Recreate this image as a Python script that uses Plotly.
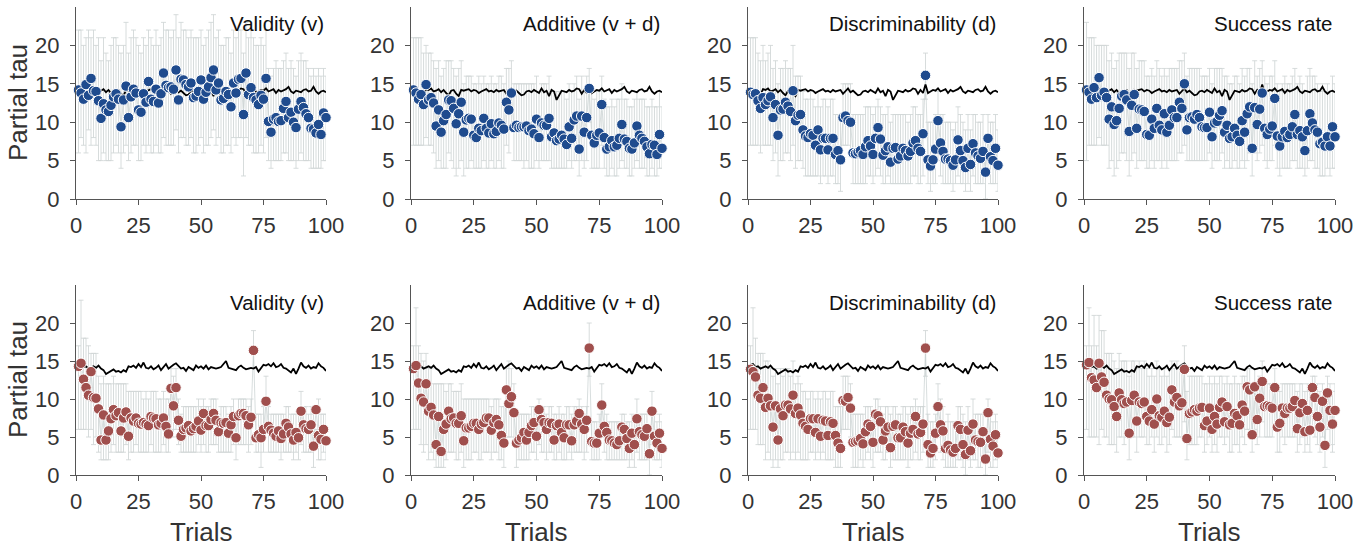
import plotly.graph_objects as go

trials = list(range(1, 101))
panel_titles = ["Validity (v)", "Additive (v + d)", "Discriminability (d)", "Success rate"]
x_ticks = [0, 25, 50, 75, 100]
y_ticks = [0, 5, 10, 15, 20]

# ---------- top row (blue) ----------
top_validity = [14.2,13.8,13.0,14.9,13.5,15.7,14.1,14.0,12.8,10.5,
 12.4,11.6,11.4,12.2,13.3,13.7,13.0,9.4,12.9,14.7,
 10.6,13.3,14.3,13.8,11.6,11.3,13.7,12.6,15.3,13.0,
 12.7,14.3,12.5,13.7,16.4,14.8,14.5,14.6,14.3,16.8,
 12.9,15.6,15.5,14.9,14.6,15.1,13.2,13.4,14.0,15.5,
 13.0,13.9,14.6,15.8,16.8,14.2,15.1,12.9,13.1,14.0,
 13.6,12.0,15.1,13.8,15.6,15.7,11.0,16.4,13.6,14.5,
 13.2,12.9,12.3,13.5,13.0,15.7,10.1,8.7,10.4,10.6,
 10.1,10.2,11.8,12.7,10.6,11.3,10.0,9.3,11.7,12.7,
 11.9,11.1,10.6,9.2,9.1,8.6,9.7,8.4,11.2,10.6]
top_validity_hi = [22,22,20,21,22,21,22,20,21,18,
 21,19,18,20,21,21,20,19,20,23,
 19,21,22,21,20,19,21,20,22,21,
 20,22,20,21,23,22,22,21,22,24,
 21,23,22,22,21,22,21,21,21,22,
 20,21,22,23,24,21,22,20,20,21,
 21,19,22,21,22,22,19,23,21,22,
 21,20,20,21,20,22,17,16,17,18,
 17,17,18,19,17,18,17,16,18,19,
 18,18,17,16,17,16,17,16,17,16]
top_validity_lo = [6,8,7,6,9,7,8,7,5,5,
 6,5,5,5,6,7,6,4,6,7,
 5,6,7,7,5,5,7,6,7,6,
 6,7,6,6,8,7,7,7,7,9,
 6,8,8,7,7,8,6,6,7,8,
 6,7,7,8,9,7,8,6,6,7,
 7,6,8,7,8,8,3,8,7,7,
 6,6,6,7,6,8,5,4,5,5,
 5,5,6,6,5,5,5,4,5,6,
 5,5,5,4,4,4,4,4,5,5]

top_additive = [14.2,13.8,13.0,13.6,12.3,14.9,12.9,13.2,12.5,9.5,
 11.6,8.7,10.2,11.0,12.9,12.8,11.8,9.8,11.1,12.6,
 8.7,10.3,10.5,10.4,8.3,8.0,9.2,8.9,10.5,9.2,
 8.6,9.8,8.5,8.8,9.9,9.6,9.1,12.6,11.6,13.8,
 9.3,9.6,9.3,9.4,9.4,9.5,8.9,9.1,8.5,10.4,
 8.0,9.9,9.6,9.6,10.5,8.1,8.6,7.6,7.8,8.3,
 7.8,7.1,9.4,7.9,10.3,10.8,6.5,10.8,8.7,10.6,
 14.4,8.3,7.3,8.3,8.6,12.3,8.0,6.5,6.8,7.6,
 6.8,7.0,7.9,9.7,7.8,7.5,6.6,6.5,7.3,9.5,
 8.3,7.9,7.5,6.8,5.9,7.1,7.0,5.8,8.4,6.6]
top_additive_hi = [21,21,21,21,19,20,19,19,18,17,
 18,16,17,18,18,18,17,16,17,18,
 15,16,16,16,15,15,16,15,16,15,
 15,16,15,15,16,16,15,17,17,18,
 15,15,15,15,15,15,15,15,15,16,
 14,15,15,15,16,14,14,14,14,14,
 14,13,15,14,15,16,13,16,14,16,
 17,14,13,14,14,16,13,12,12,13,
 12,13,13,15,13,13,12,12,13,14,
 13,13,13,12,12,13,12,12,14,12]
top_additive_lo = [7,7,7,7,7,8,7,7,6,4,
 5,4,4,4,6,5,4,3,4,5,
 3,4,4,5,4,4,4,4,5,4,
 4,5,4,4,5,4,4,7,6,9,
 5,5,5,5,4,5,4,4,4,5,
 4,5,5,5,5,4,4,4,4,4,
 4,4,5,4,5,5,3,5,4,5,
 10,4,4,4,4,7,4,3,3,4,
 3,3,4,5,4,4,3,3,4,5,
 4,4,4,3,3,4,3,3,4,4]

top_discrim = [13.9,13.6,13.7,12.8,11.8,13.2,12.3,12.8,13.3,10.6,
 12.3,8.3,11.6,11.7,12.6,12.1,11.4,14.1,10.2,10.9,
 11.0,9.0,8.2,8.0,8.5,8.3,7.0,9.0,6.4,7.9,
 7.9,6.4,7.9,7.9,5.8,6.3,5.1,10.6,10.8,10.2,
 10.0,6.0,5.9,6.1,6.3,5.8,6.8,7.6,6.9,5.8,
 7.9,9.3,7.8,5.7,6.3,6.8,4.8,6.6,6.7,5.2,
 5.6,6.6,6.3,5.6,6.2,7.3,7.6,6.6,6.2,8.5,
 16.1,5.1,4.3,5.1,6.5,10.2,7.3,6.2,5.2,5.2,
 5.0,4.4,5.1,7.7,6.3,5.0,4.1,6.6,4.5,7.2,
 6.0,5.6,5.3,6.2,3.5,7.9,5.5,5.0,6.6,4.4]
top_discrim_hi = [21,21,21,19,18,20,18,19,20,17,
 18,15,17,17,18,17,17,20,16,16,
 16,14,13,13,14,13,12,14,12,13,
 13,12,13,13,11,11,11,15,15,15,
 15,11,11,11,11,11,12,12,12,11,
 12,13,12,11,11,12,10,11,11,11,
 11,11,11,10,11,12,12,11,11,13,
 19,10,10,10,11,14,11,11,10,10,
 10,9,10,12,11,10,9,11,9,11,
 11,10,10,11,8,11,10,10,11,9]
top_discrim_lo = [7,7,7,7,6,7,7,7,7,5,
 6,3,5,5,6,6,5,7,4,5,
 5,4,3,3,3,3,3,3,2,3,
 3,2,3,3,2,2,1,7,7,7,
 6,2,2,2,2,2,2,3,3,2,
 3,4,3,2,2,3,2,2,2,2,
 2,2,2,2,2,3,3,2,2,3,
 13,2,1,2,2,5,3,2,2,2,
 2,1,2,3,2,2,1,2,1,3,
 2,2,2,2,0,3,2,2,2,1]

top_success = [14.2,13.9,13.0,14.5,13.2,15.8,13.5,13.9,13.2,10.4,
 12.0,9.7,10.2,11.8,13.4,13.6,12.9,8.8,12.2,13.6,
 9.2,11.7,11.6,11.4,8.4,8.3,10.4,9.2,11.8,9.6,
 9.0,11.1,8.7,9.6,11.6,10.6,10.6,12.6,11.8,15.0,
 9.0,10.6,10.7,10.4,11.0,10.6,9.4,9.3,9.3,11.3,
 8.1,9.9,10.1,10.9,11.5,8.7,9.6,7.9,8.1,9.2,
 8.3,7.5,10.2,8.7,11.1,12.0,6.6,11.9,9.7,11.7,
 13.8,9.2,8.4,9.1,9.5,13.1,8.2,6.9,8.1,8.8,
 8.0,8.4,9.4,11.0,8.4,8.9,8.1,6.3,8.9,11.1,
 9.9,9.0,8.7,7.2,7.4,6.9,8.1,6.9,9.4,8.1]
top_success_hi = [23,21,21,21,20,20,20,20,20,18,
 19,17,18,19,19,19,19,17,19,19,
 17,18,18,18,16,16,17,16,18,17,
 16,17,16,17,17,17,17,18,18,19,
 16,17,17,17,17,17,16,16,16,17,
 15,17,17,17,17,16,16,15,15,16,
 16,15,17,16,17,17,15,18,16,17,
 18,16,15,16,16,18,15,14,15,16,
 15,15,16,17,15,16,15,14,16,17,
 16,16,15,14,15,14,15,14,16,15]
top_success_lo = [5,7,7,7,7,8,7,7,7,4,
 5,3,4,5,6,6,5,3,5,6,
 4,5,5,5,4,4,5,4,5,5,
 4,5,4,5,5,5,5,6,6,7,
 5,5,5,5,5,5,5,5,5,6,
 4,5,5,5,6,4,5,4,4,5,
 4,4,5,4,5,6,3,6,5,6,
 7,5,4,5,5,7,4,3,4,4,
 4,4,5,5,4,4,4,3,4,5,
 5,4,4,3,3,3,4,3,4,4]

top_baseline = [14.3,14.1,14.0,13.8,13.6,14.3,14.2,14.4,14.0,14.1,
 14.3,13.9,14.2,13.8,13.5,14.1,14.2,13.7,13.4,14.2,
 14.1,14.2,14.3,14.0,14.2,14.1,13.8,14.0,14.1,14.3,
 14.0,14.1,13.9,14.2,14.0,14.1,14.2,13.7,14.0,14.4,
 13.9,14.1,13.8,13.5,13.6,14.0,14.1,13.9,14.2,14.0,
 13.8,14.4,13.9,14.1,13.4,14.2,14.0,12.9,13.6,14.1,
 14.0,13.9,14.2,14.0,14.1,14.4,14.3,13.7,14.2,13.8,
 14.9,13.8,14.0,14.2,14.1,14.4,14.0,14.1,14.3,13.8,
 14.2,14.0,14.1,14.3,14.6,14.0,13.8,14.1,14.0,13.9,
 14.2,14.3,14.0,14.1,14.6,14.0,13.7,14.0,14.1,13.9]

# ---------- bottom row (red) ----------
bot_validity = [14.3,14.7,12.6,11.5,10.5,13.6,10.2,10.1,8.7,4.6,
 7.9,4.6,5.8,7.4,8.6,7.8,8.2,5.8,7.5,8.3,
 5.1,7.5,7.1,7.5,6.8,6.7,6.9,6.7,6.5,7.7,
 7.5,7.4,6.6,6.8,7.5,6.4,5.4,11.4,9.1,11.5,
 7.2,5.1,6.0,6.2,6.5,5.8,6.1,6.4,7.1,5.9,
 8.1,6.5,6.5,7.3,8.1,7.2,5.7,6.9,6.8,6.9,
 5.5,6.6,7.7,4.9,7.8,8.1,8.1,7.8,6.6,7.6,
 16.4,4.9,5.3,4.9,6.0,9.7,6.4,5.9,5.5,5.1,
 5.8,4.8,5.4,6.8,6.3,5.4,4.6,5.6,4.9,8.4,
 6.6,6.1,6.0,6.6,3.8,8.6,5.2,4.7,6.0,4.5]
bot_validity_hi = [17,23,18,18,17,16,16,16,13,12,
 13,12,12,12,13,12,12,12,12,12,
 11,11,11,11,11,11,10,11,10,11,
 11,11,10,10,11,10,10,14,13,14,
 10,8,9,9,9,9,9,9,10,9,
 10,9,9,10,10,10,8,9,9,9,
 8,9,10,8,10,10,10,10,9,10,
 19,8,8,8,9,13,9,8,8,8,
 8,8,8,9,9,8,8,8,8,11,
 9,9,8,9,8,6,10,8,8,8]
bot_validity_lo = [6,6,6,6,5,6,4,5,3,2,
 2,2,2,3,4,3,3,3,3,4,
 2,3,3,4,3,3,3,3,3,4,
 3,3,3,3,4,3,3,6,5,6,
 4,3,3,3,3,3,3,3,4,3,
 4,3,3,4,4,4,3,3,3,3,
 3,3,4,2,4,4,4,4,3,4,
 14,3,3,1,3,6,3,3,3,3,
 3,2,3,3,3,3,2,3,2,4,
 3,3,3,3,1,4,2,2,3,2]

bot_additive = [14.0,14.4,12.1,10.1,9.6,12.0,8.4,8.9,7.9,4.0,
 7.7,3.1,6.0,6.7,8.4,7.4,7.5,6.8,6.8,7.8,
 4.5,6.2,6.2,6.4,6.8,6.8,6.0,6.7,6.9,7.5,
 7.5,5.9,6.9,7.3,6.6,5.2,4.2,11.2,9.4,10.3,
 8.2,4.2,4.6,4.9,5.6,4.6,5.6,6.5,6.9,5.1,
 8.6,7.3,6.9,6.0,6.9,6.8,4.6,6.5,6.7,5.6,
 4.9,6.6,6.6,4.5,6.6,7.1,8.1,6.7,6.0,7.2,
 16.7,4.4,4.2,4.2,5.5,9.2,6.4,5.6,4.6,4.5,
 4.2,4.0,4.5,6.3,6.0,4.8,3.5,5.5,4.0,7.4,
 5.7,5.3,5.1,6.1,2.8,8.4,5.1,4.2,5.5,3.5]
bot_additive_hi = [17,22,17,16,15,16,14,14,12,12,
 12,12,12,11,12,12,11,11,11,12,
 10,10,10,10,10,10,10,10,10,10,
 10,9,10,10,10,9,9,14,15,14,
 12,8,8,8,8,8,8,9,9,8,
 10,9,9,8,9,9,8,8,9,8,
 8,9,9,8,9,9,10,9,8,9,
 20,7,7,7,8,12,9,8,7,7,
 7,7,7,8,8,7,7,8,7,10,
 8,8,8,8,6,11,8,7,8,7]
bot_additive_lo = [6,6,6,4,3,4,2,3,2,1,
 1,1,1,2,3,3,3,2,2,3,
 1,2,2,2,3,3,2,2,3,3,
 3,2,3,3,2,2,1,5,5,5,
 4,1,2,2,2,2,2,3,3,2,
 4,3,3,2,3,3,2,2,3,2,
 2,2,3,2,3,3,3,3,2,3,
 13,2,2,2,2,5,3,2,2,2,
 2,2,2,2,2,2,1,2,1,3,
 2,2,2,2,0,4,2,2,2,1]

bot_discrim = [13.9,13.6,12.9,10.5,10.1,11.5,8.9,10.1,9.1,6.3,
 9.1,4.6,8.7,7.8,9.2,9.2,8.7,10.5,8.1,8.8,
 7.9,6.8,6.4,6.0,7.4,7.4,5.6,7.4,5.1,7.2,
 7.1,5.2,7.0,6.8,5.2,4.2,3.5,9.8,9.7,10.2,
 8.8,4.3,4.4,4.5,4.8,4.1,5.7,6.7,6.4,4.3,
 8.0,7.8,7.0,4.6,5.8,6.3,3.6,6.4,6.6,4.9,
 4.9,6.3,5.7,4.2,5.5,6.0,7.7,5.4,5.6,6.7,
 16.7,4.0,2.9,3.5,5.5,9.0,6.6,5.8,3.5,3.9,
 3.3,3.0,3.5,6.5,6.0,4.0,2.7,5.9,3.2,6.7,
 4.6,4.4,4.3,5.7,2.1,8.2,4.7,3.8,5.3,2.9]
bot_discrim_hi = [17,22,18,16,16,16,15,15,14,13,
 14,12,14,13,14,14,13,15,12,13,
 12,11,11,10,11,11,10,11,10,11,
 11,10,11,11,9,9,9,13,13,13,
 12,8,8,8,8,8,9,9,9,8,
 10,10,9,8,9,9,8,9,9,8,
 8,9,9,8,9,9,10,9,9,9,
 19,8,7,7,8,12,10,9,7,8,
 7,7,7,9,9,8,7,9,7,10,
 8,8,8,8,6,10,8,7,8,7]
bot_discrim_lo = [6,6,6,4,4,4,2,3,2,1,
 2,1,2,2,3,3,2,3,2,3,
 2,2,2,2,3,3,2,3,2,3,
 2,2,2,2,1,1,1,6,6,6,
 5,1,1,1,2,1,2,3,2,1,
 3,3,3,2,2,3,1,2,2,2,
 2,2,2,1,2,2,3,2,2,3,
 13,1,1,1,2,5,3,2,1,1,
 1,1,1,2,2,1,0,2,1,2,
 2,1,1,2,0,3,1,1,2,1]

bot_success = [14.5,14.8,12.8,12.5,11.5,14.7,12.9,12.2,10.5,10.0,
 9.9,9.0,7.7,10.8,9.9,9.4,9.6,5.5,9.8,10.5,
 7.1,9.6,9.4,9.6,7.7,7.1,8.6,6.7,10.0,7.8,
 7.6,8.4,6.9,7.6,11.2,9.6,10.2,9.1,9.5,13.9,
 4.8,8.1,8.3,8.6,8.4,8.8,8.9,6.5,7.1,8.8,
 6.0,7.7,6.7,8.9,9.6,7.0,9.0,6.6,6.8,8.1,
 7.8,6.6,9.2,8.4,11.6,11.2,5.3,11.6,7.3,10.1,
 12.3,9.0,9.1,9.0,8.8,11.5,6.3,6.8,8.8,8.1,
 8.8,8.8,9.0,9.8,6.1,8.2,9.4,5.7,8.5,5.9,
 11.5,10.2,7.7,6.3,9.7,3.9,10.8,8.5,6.7,8.5]
bot_success_hi = [17,22,17,21,17,21,19,19,16,16,
 16,15,14,16,15,15,15,13,15,15,
 14,15,14,15,14,13,14,13,15,14,
 13,14,13,14,15,14,15,14,14,17,
 11,13,13,13,13,13,13,12,12,13,
 12,13,12,13,13,12,13,12,12,13,
 12,12,13,13,14,14,11,14,12,13,
 15,12,12,12,12,14,11,11,12,12,
 12,12,12,12,11,12,12,11,12,11,
 13,13,12,11,12,9,13,12,11,12]
bot_success_lo = [6,5,5,5,5,4,6,5,5,4,
 4,4,3,5,5,4,5,2,5,5,
 3,5,5,5,4,4,5,3,5,4,
 4,5,3,4,6,5,5,5,5,7,
 2,4,4,4,4,5,5,3,4,5,
 3,4,3,5,5,4,5,3,3,4,
 4,3,5,4,6,6,3,6,4,5,
 7,5,5,5,5,6,3,3,5,4,
 5,5,5,5,3,4,5,3,4,3,
 6,5,4,3,5,1,6,4,3,4]

bot_baseline = [14.5,14.6,14.2,14.3,14.0,14.2,14.3,14.1,14.4,14.0,
 13.8,13.3,13.5,13.7,13.9,13.6,13.7,13.5,13.8,13.6,
 14.3,14.2,14.4,14.1,14.6,14.2,14.8,14.1,14.0,14.3,
 13.9,14.1,14.4,13.8,14.2,14.6,14.0,14.3,14.5,14.7,
 14.3,14.0,14.1,13.7,14.2,14.0,13.8,14.4,14.1,14.3,
 14.0,14.4,13.9,14.2,14.1,14.0,14.1,14.2,14.6,15.0,
 14.1,14.0,13.9,13.8,14.2,14.4,14.1,13.9,14.0,14.1,
 14.0,14.2,13.6,14.0,14.5,14.4,14.6,14.3,14.7,14.2,
 14.3,14.6,14.1,14.0,13.7,13.5,14.0,13.3,14.0,14.8,
 14.3,14.1,14.4,14.0,14.2,14.1,14.7,14.3,14.1,13.7]

rows = [
    dict(color="#1f4b8e", baseline=top_baseline,
         panels=[(top_validity, top_validity_lo, top_validity_hi),
                 (top_additive, top_additive_lo, top_additive_hi),
                 (top_discrim, top_discrim_lo, top_discrim_hi),
                 (top_success, top_success_lo, top_success_hi)]),
    dict(color="#a04f4d", baseline=bot_baseline,
         panels=[(bot_validity, bot_validity_lo, bot_validity_hi),
                 (bot_additive, bot_additive_lo, bot_additive_hi),
                 (bot_discrim, bot_discrim_lo, bot_discrim_hi),
                 (bot_success, bot_success_lo, bot_success_hi)]),
]

W, H = 1370, 548
col_px = [(76, 326), (411, 662), (748, 998), (1084, 1335)]
row_px = [(7, 199), (285, 475)]

fig = go.Figure()
layout = dict(width=W, height=H, margin=dict(l=0, r=0, t=0, b=0, autoexpand=False),
              plot_bgcolor="white", paper_bgcolor="white", showlegend=False,
              font=dict(family="Liberation Sans, Arial, sans-serif", color="#333333"))
annotations = []

k = 0
for r, row in enumerate(rows):
    for c, (vals, lo, hi) in enumerate(row["panels"]):
        k += 1
        xa = "x" if k == 1 else f"x{k}"
        ya = "y" if k == 1 else f"y{k}"
        eplus = [h - v for h, v in zip(hi, vals)]
        eminus = [v - l for v, l in zip(vals, lo)]
        fig.add_trace(go.Scatter(
            x=trials, y=vals, mode="lines", xaxis=xa, yaxis=ya,
            line=dict(color="rgba(200,208,208,0.7)", width=1),
            error_y=dict(type="data", symmetric=False, array=eplus, arrayminus=eminus,
                         color="rgba(208,214,214,0.85)", thickness=1, width=2.5),
            cliponaxis=False, hoverinfo="skip"))
        fig.add_trace(go.Scatter(
            x=trials, y=row["baseline"], mode="lines", xaxis=xa, yaxis=ya,
            line=dict(color="black", width=1.8), cliponaxis=False))
        fig.add_trace(go.Scatter(
            x=trials, y=vals, mode="markers", xaxis=xa, yaxis=ya,
            marker=dict(color=row["color"], size=10.5, line=dict(color="white", width=1)),
            cliponaxis=False))

        x0, x1 = col_px[c]
        y0, y1 = row_px[r]
        axkw = dict(showline=True, linecolor="#555555", linewidth=1.3,
                    ticks="outside", ticklen=5, tickcolor="#555555", tickwidth=1.2,
                    showgrid=False, zeroline=False, automargin=False,
                    tickfont=dict(size=22, color="#333333"))
        layout["xaxis" if k == 1 else f"xaxis{k}"] = dict(
            domain=[x0 / W, x1 / W], range=[0, 100], tickvals=x_ticks,
            anchor=ya, ticklabelstandoff=1, **axkw)
        layout["yaxis" if k == 1 else f"yaxis{k}"] = dict(
            domain=[1 - y1 / H, 1 - y0 / H], range=[0, 25], tickvals=y_ticks,
            anchor=xa, ticklabelstandoff=6, **axkw)
        annotations.append(dict(
            text=panel_titles[c], xref=f"{xa} domain", yref=f"{ya} domain",
            x=1.0, xshift=0, y=1 - 17 / (y1 - y0),
            xanchor="right", yanchor="middle", showarrow=False,
            font=dict(size=20.5, color="#111111")))
        if c == 0:
            annotations.append(dict(
                text="Partial tau", xref="paper", yref="paper",
                x=18 / W, y=1 - ((y0 + y1) / 2) / H, textangle=-90,
                xanchor="center", yanchor="middle", showarrow=False,
                font=dict(size=26, color="#333333")))
        if r == 1:
            annotations.append(dict(
                text="Trials", xref="paper", yref="paper",
                x=((x0 + x1) / 2) / W, y=1 - 532 / H,
                xanchor="center", yanchor="middle", showarrow=False,
                font=dict(size=26, color="#333333")))

layout["annotations"] = annotations
fig.update_layout(**layout)
fig.write_html("out.html", config={"displayModeBar": False},
               post_script="document.body.style.margin='0';document.body.style.overflow='hidden';")
